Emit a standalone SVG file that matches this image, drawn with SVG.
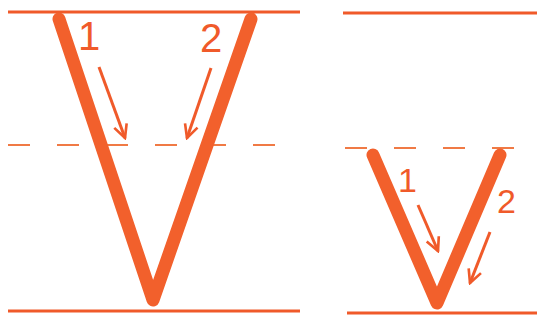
<svg xmlns="http://www.w3.org/2000/svg" width="538" height="323" viewBox="0 0 538 323">
<style>
.guide{stroke:#F05A2A;stroke-width:3;fill:none}
.dash{stroke:#F07A45;stroke-width:2;stroke-dasharray:22 27;fill:none}
.v{stroke:#F2602C;stroke-width:13;fill:none;stroke-linecap:round;stroke-linejoin:round}
.arr{stroke:#F05A2A;stroke-width:3;fill:none}
.lbl{font-family:"Liberation Sans",Arial,sans-serif;fill:#F05A2A}
</style>
<defs>
<marker id="ah" viewBox="0 0 10 10" refX="9" refY="5" markerWidth="5.5" markerHeight="5.5" orient="auto" markerUnits="strokeWidth">
<path d="M1,1 L9,5 L1,9" fill="none" stroke="#F05A2A" stroke-width="1.6"/>
</marker>
</defs>
<g id="guides">
<line class="guide" x1="8" y1="12" x2="300" y2="12"/>
<line class="dash" x1="8" y1="145" x2="280" y2="145"/>
<line class="guide" x1="8" y1="311" x2="300" y2="311"/>
<line class="guide" x1="343" y1="13" x2="537" y2="13"/>
<line class="dash" x1="345" y1="148" x2="515" y2="148"/>
<line class="guide" x1="347" y1="313" x2="537" y2="313"/>
</g>
<g id="bigV">
<polyline class="v" points="59,19 153,300 251,19"/>
<text class="lbl" x="78" y="50" font-size="40">1</text>
<text class="lbl" x="200" y="52" font-size="40">2</text>
</g>
<g id="smallV">
<polyline class="v" points="373,155 437,303 500,155"/>
<text class="lbl" x="398" y="192" font-size="34">1</text>
<text class="lbl" x="497" y="213" font-size="34">2</text>
</g>
<g id="connectors">
<line class="arr" x1="99" y1="67" x2="125" y2="138" marker-end="url(#ah)"/>
<line class="arr" x1="211" y1="68" x2="187" y2="138" marker-end="url(#ah)"/>
<line class="arr" x1="418" y1="205" x2="438" y2="251" marker-end="url(#ah)"/>
<line class="arr" x1="490" y1="232" x2="470" y2="283" marker-end="url(#ah)"/>
</g>
</svg>
